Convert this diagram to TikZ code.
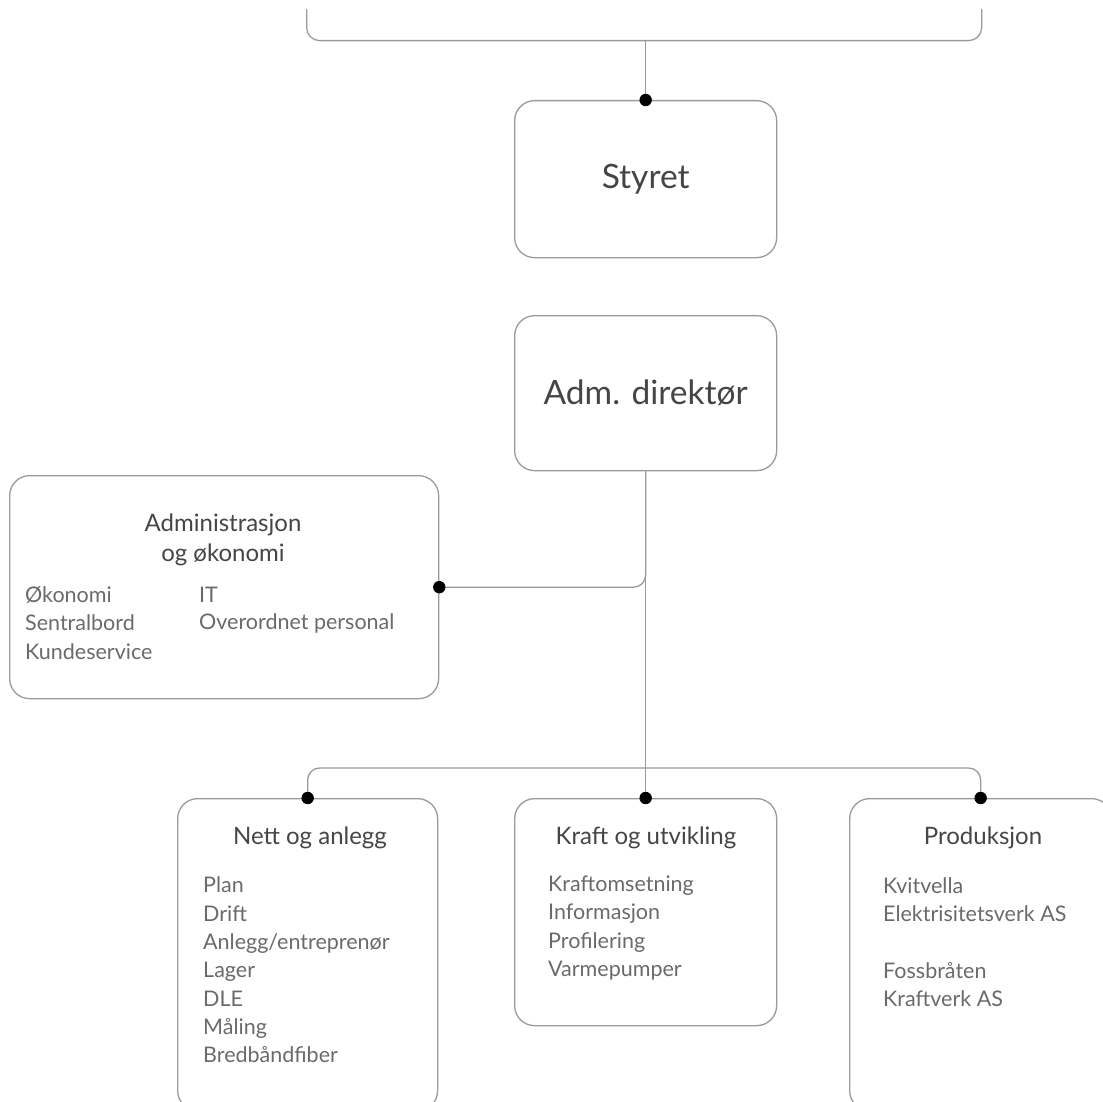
\documentclass[tikz,border=0pt]{standalone}
\usepackage{fontspec}
\setmainfont{Lato}
\usetikzlibrary{calc}
\definecolor{edge}{HTML}{9A9A9A}
\definecolor{head}{HTML}{454545}
\definecolor{item}{HTML}{6A6A6A}
\tikzset{
  box/.style={draw=edge, line width=1.3pt, rounded corners=20pt, anchor=north west, inner sep=0pt},
  conn/.style={draw=edge, line width=1.3pt},
  bigtext/.style={text=head, font=\fontsize{33.5}{38}\selectfont},
  headtext/.style={text=head, font=\fontsize{24}{30}\selectfont, align=center},
  itemtext/.style={text=item, font=\fontsize{21.5}{28.3}\selectfont, align=left, anchor=west, inner sep=0pt},
}
\newcommand{\jdot}[1]{\fill[black] (#1) circle (6.2pt);}
\begin{document}
\begin{tikzpicture}[x=1pt,y=-1pt]
\useasboundingbox (0,0) rectangle (1103,1102);
\begin{scope}
\clip (0,10) rectangle (1103,1102);
\node[box, rounded corners=13pt, minimum width=675pt, minimum height=140pt] (top) at (306,-100) {};
\end{scope}
\node[box, minimum width=262pt, minimum height=157pt] (styret) at (514,100) {};
\node[bigtext] at (styret.center) {Styret};
\node[box, minimum width=262pt, minimum height=155pt] (adm) at (514,315) {};
\node[bigtext] at (adm.center) {Adm. direktør};
\node[box, minimum width=429pt, minimum height=223pt] (admin) at (9,475) {};
\node[headtext] at (223,540) {Administrasjon\\og økonomi};
\node[itemtext] at (25,623) {Økonomi\\Sentralbord\\Kundeservice};
\node[itemtext] at (199,595) {IT};
\node[itemtext] at (199,623) {Overordnet personal};
\node[box, minimum width=260pt, minimum height=312pt] (nett) at (177,798) {};
\node[headtext] at (310,838) {Nett og anlegg};
\node[itemtext] at (203,970) {Plan\\Drift\\Anlegg/entreprenør\\Lager\\DLE\\Måling\\Bredbåndfiber};
\node[box, minimum width=262pt, minimum height=227pt] (kraft) at (514,798) {};
\node[headtext] at (646,838) {Kraft og utvikling};
\node[itemtext] at (548,928) {Kraftomsetning\\Informasjon\\Profilering\\Varmepumper};
\node[box, minimum width=262pt, minimum height=312pt] (prod) at (849,798) {};
\node[headtext] at (983,838) {Produksjon};
\node[itemtext] at (883,942) {Kvitvella\\Elektrisitetsverk AS\\\\Fossbråten\\Kraftverk AS};
\coordinate (bus) at (644,768);
\draw[conn] (styret.north |- top.south) -- (styret.north);
\draw[conn] (adm.south) -- (kraft.north);
\draw[conn, rounded corners=12pt] (adm.south) |- (admin.east);
\draw[conn, rounded corners=12pt] (nett.north) |- (bus) -| (prod.north);
\jdot{styret.north}
\jdot{admin.east}
\jdot{nett.north}
\jdot{kraft.north}
\jdot{prod.north}
\end{tikzpicture}
\end{document}
